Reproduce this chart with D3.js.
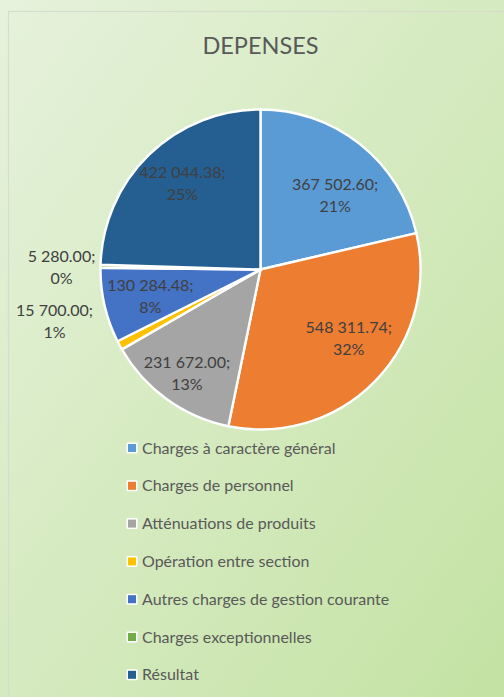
<!DOCTYPE html>
<html>
<head>
<meta charset="utf-8">
<script src="https://cdn.jsdelivr.net/npm/d3@7"></script>
<style>
  html, body { margin: 0; padding: 0; overflow: hidden; }
  body { width: 504px; height: 697px; }
  text { font-family: Lato, "Open Sans", sans-serif; }
</style>
</head>
<body>
<svg id="chart" width="504" height="697"></svg>
<script>
const title = "DEPENSES";
const categories = [
  "Charges à caractère général",
  "Charges de personnel",
  "Atténuations de produits",
  "Opération entre section",
  "Autres charges de gestion courante",
  "Charges exceptionnelles",
  "Résultat"
];
const values = [367502.60, 548311.74, 231672.00, 15700.00, 130284.48, 5280.00, 422044.38];
const colors = ["#5B9BD5", "#ED7D31", "#A5A5A5", "#FFC000", "#4472C4", "#70AD47", "#255E91"];

const W = 504, H = 697;
const svg = d3.select("#chart");
const defs = svg.append("defs");
const grad = defs.append("linearGradient").attr("id", "bg")
  .attr("x1", "0%").attr("y1", "0%").attr("x2", "100%").attr("y2", "100%");
grad.append("stop").attr("offset", "0%").attr("stop-color", "#e6f2dc");
grad.append("stop").attr("offset", "100%").attr("stop-color", "#c4e2a3");
svg.append("rect").attr("width", W).attr("height", H).attr("fill", "url(#bg)");
svg.append("rect").attr("x", 8.5).attr("y", 11.5).attr("width", W).attr("height", H)
  .attr("fill", "none").attr("stroke", "#d6ddcf").attr("stroke-width", 1.2);

svg.append("text").attr("x", 260.5).attr("y", 54).attr("text-anchor", "middle")
  .attr("font-size", 23.5).attr("fill", "#595959").text(title);

const cx = 260.5, cy = 269.5, R = 160;
const total = d3.sum(values);
const data = categories.map((c, i) => ({ cat: c, value: values[i], color: colors[i], i }));
const pie = d3.pie().value(d => d.value).sort(null);
const arcs = pie(data);
const arc = d3.arc().innerRadius(0).outerRadius(R);
const g = svg.append("g").attr("transform", `translate(${cx},${cy})`);
g.selectAll("path").data(arcs).join("path")
  .attr("d", arc).attr("fill", d => d.data.color)
  .attr("stroke", "#fff").attr("stroke-width", 2.4).attr("stroke-linejoin", "round");

const fmt = v => {
  const s = v.toFixed(2);
  const [ip, dp] = s.split(".");
  return ip.replace(/\B(?=(\d{3})+(?!\d))/g, " ") + "." + dp;
};
const pct = v => Math.round(v / total * 100) + "%";

// label placement: inside (best-fit like) vs outside
const labelArc = d3.arc().innerRadius(R * 0.7).outerRadius(R * 0.7);
const nudges = { 0: [5, 14], 1: [8, -9], 2: [-8, 13], 4: [-1, 2], 6: [0, -6] };
const outside = { 3: [-206, 52], 5: [-199, -2] };
arcs.forEach((a, k) => {
  let x, y;
  if (outside[k]) {
    x = outside[k][0]; y = outside[k][1];
  } else {
    const c = labelArc.centroid(a);
    const n = nudges[k] || [0, 0];
    x = c[0] + n[0]; y = c[1] + n[1];
  }
  const t = g.append("text").attr("text-anchor", "middle").attr("font-size", 16)
    .attr("fill", "#404040");
  t.append("tspan").attr("x", x).attr("y", y - 11 + 5.5).text(fmt(a.data.value) + ";");
  t.append("tspan").attr("x", x).attr("y", y + 11 + 5.5).text(pct(a.data.value));
});

// legend
const lg = svg.append("g").attr("transform", "translate(126,448)");
const rows = lg.selectAll("g").data(data).join("g")
  .attr("transform", (d, i) => `translate(0,${i * 37.8})`);
rows.append("rect").attr("x", 0.5).attr("y", -5.5).attr("width", 11).attr("height", 11)
  .attr("fill", "#fff").attr("rx", 1);
rows.append("rect").attr("x", 2).attr("y", -4).attr("width", 8).attr("height", 8)
  .attr("fill", d => d.color);
rows.append("text").attr("x", 16).attr("y", 5.5).attr("font-size", 16)
  .attr("fill", "#595959").text(d => d.cat);
</script>
</body>
</html>
